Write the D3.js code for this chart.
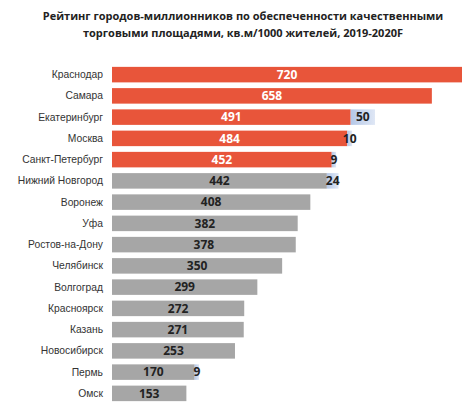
<!DOCTYPE html>
<html>
<head>
<meta charset="utf-8">
<script src="https://cdn.jsdelivr.net/npm/d3@7"></script>
<style>
  body { margin: 0; background: #fff; }
  svg { display: block; }
</style>
</head>
<body>
<div id="chart"></div>
<script>
const titleLines = [
  "Рейтинг городов-миллионников по обеспеченности качественными",
  "торговыми площадями, кв.м/1000 жителей, 2019-2020F"
];

const cities = [
  "Краснодар", "Самара", "Екатеринбург", "Москва", "Санкт-Петербург",
  "Нижний Новгород", "Воронеж", "Уфа", "Ростов-на-Дону", "Челябинск",
  "Волгоград", "Красноярск", "Казань", "Новосибирск", "Пермь", "Омск"
];
const current = [720, 658, 491, 484, 452, 442, 408, 382, 378, 350, 299, 272, 271, 253, 170, 153];
const planned = [0, 0, 50, 10, 9, 24, 0, 0, 0, 0, 0, 0, 0, 0, 9, 0];
const leaders = ["Краснодар", "Самара", "Екатеринбург", "Москва", "Санкт-Петербург"];

const width = 476, height = 419;

const svg = d3.select("#chart").append("svg")
  .attr("width", width)
  .attr("height", height);

// gradient for the planned part
const grad = svg.append("defs").append("linearGradient")
  .attr("id", "plannedGrad")
  .attr("x1", "0%").attr("x2", "100%");
grad.append("stop").attr("offset", "0%").attr("stop-color", "#b4c7e7");
grad.append("stop").attr("offset", "100%").attr("stop-color", "#dfe7f5");

svg.append("g")
  .selectAll("text")
  .data(titleLines)
  .join("text")
  .attr("x", 243)
  .attr("y", (d, i) => 20 + i * 17)
  .attr("text-anchor", "middle")
  .attr("font-family", "'Open Sans', sans-serif")
  .attr("font-weight", "bold")
  .attr("font-size", "11px")
  .attr("fill", "#222")
  .text(d => d);

const x = d3.scaleLinear()
  .domain([0, 720])
  .range([112, 462]);

const y = d3.scaleBand()
  .domain(cities)
  .range([64, 404])
  .paddingInner(0.27)
  .paddingOuter(0.135);

const rows = svg.append("g")
  .selectAll("g")
  .data(cities.map((c, i) => ({ city: c, cur: current[i], add: planned[i] })))
  .join("g");

rows.append("rect")
  .attr("x", x(0))
  .attr("y", d => y(d.city))
  .attr("width", d => x(d.cur) - x(0))
  .attr("height", y.bandwidth())
  .attr("fill", d => leaders.includes(d.city) ? "#e8553a" : "#a6a6a6");

rows.filter(d => d.add > 0)
  .append("rect")
  .attr("x", d => x(d.cur))
  .attr("y", d => y(d.city))
  .attr("width", d => x(d.cur + d.add) - x(d.cur))
  .attr("height", y.bandwidth())
  .attr("fill", "url(#plannedGrad)");

// category labels
rows.append("text")
  .attr("x", 103)
  .attr("y", d => y(d.city) + y.bandwidth() / 2)
  .attr("dy", "0.35em")
  .attr("text-anchor", "end")
  .attr("font-family", "'Liberation Sans', Arial, sans-serif")
  .attr("font-size", "10.3px")
  .attr("fill", "#333")
  .text(d => d.city);

// value labels
rows.append("text")
  .attr("x", d => (x(0) + x(d.cur)) / 2)
  .attr("y", d => y(d.city) + y.bandwidth() / 2)
  .attr("dy", "0.36em")
  .attr("text-anchor", "middle")
  .attr("font-family", "'Open Sans', sans-serif")
  .attr("font-weight", "bold")
  .attr("font-size", "12px")
  .attr("fill", d => leaders.includes(d.city) ? "#fff" : "#222")
  .text(d => d.cur);

rows.filter(d => d.add > 0)
  .append("text")
  .attr("x", d => (x(d.cur) + x(d.cur + d.add)) / 2)
  .attr("y", d => y(d.city) + y.bandwidth() / 2)
  .attr("dy", "0.36em")
  .attr("text-anchor", "middle")
  .attr("font-family", "'Open Sans', sans-serif")
  .attr("font-weight", "bold")
  .attr("font-size", "12px")
  .attr("fill", "#222")
  .text(d => d.add);
</script>
</body>
</html>
